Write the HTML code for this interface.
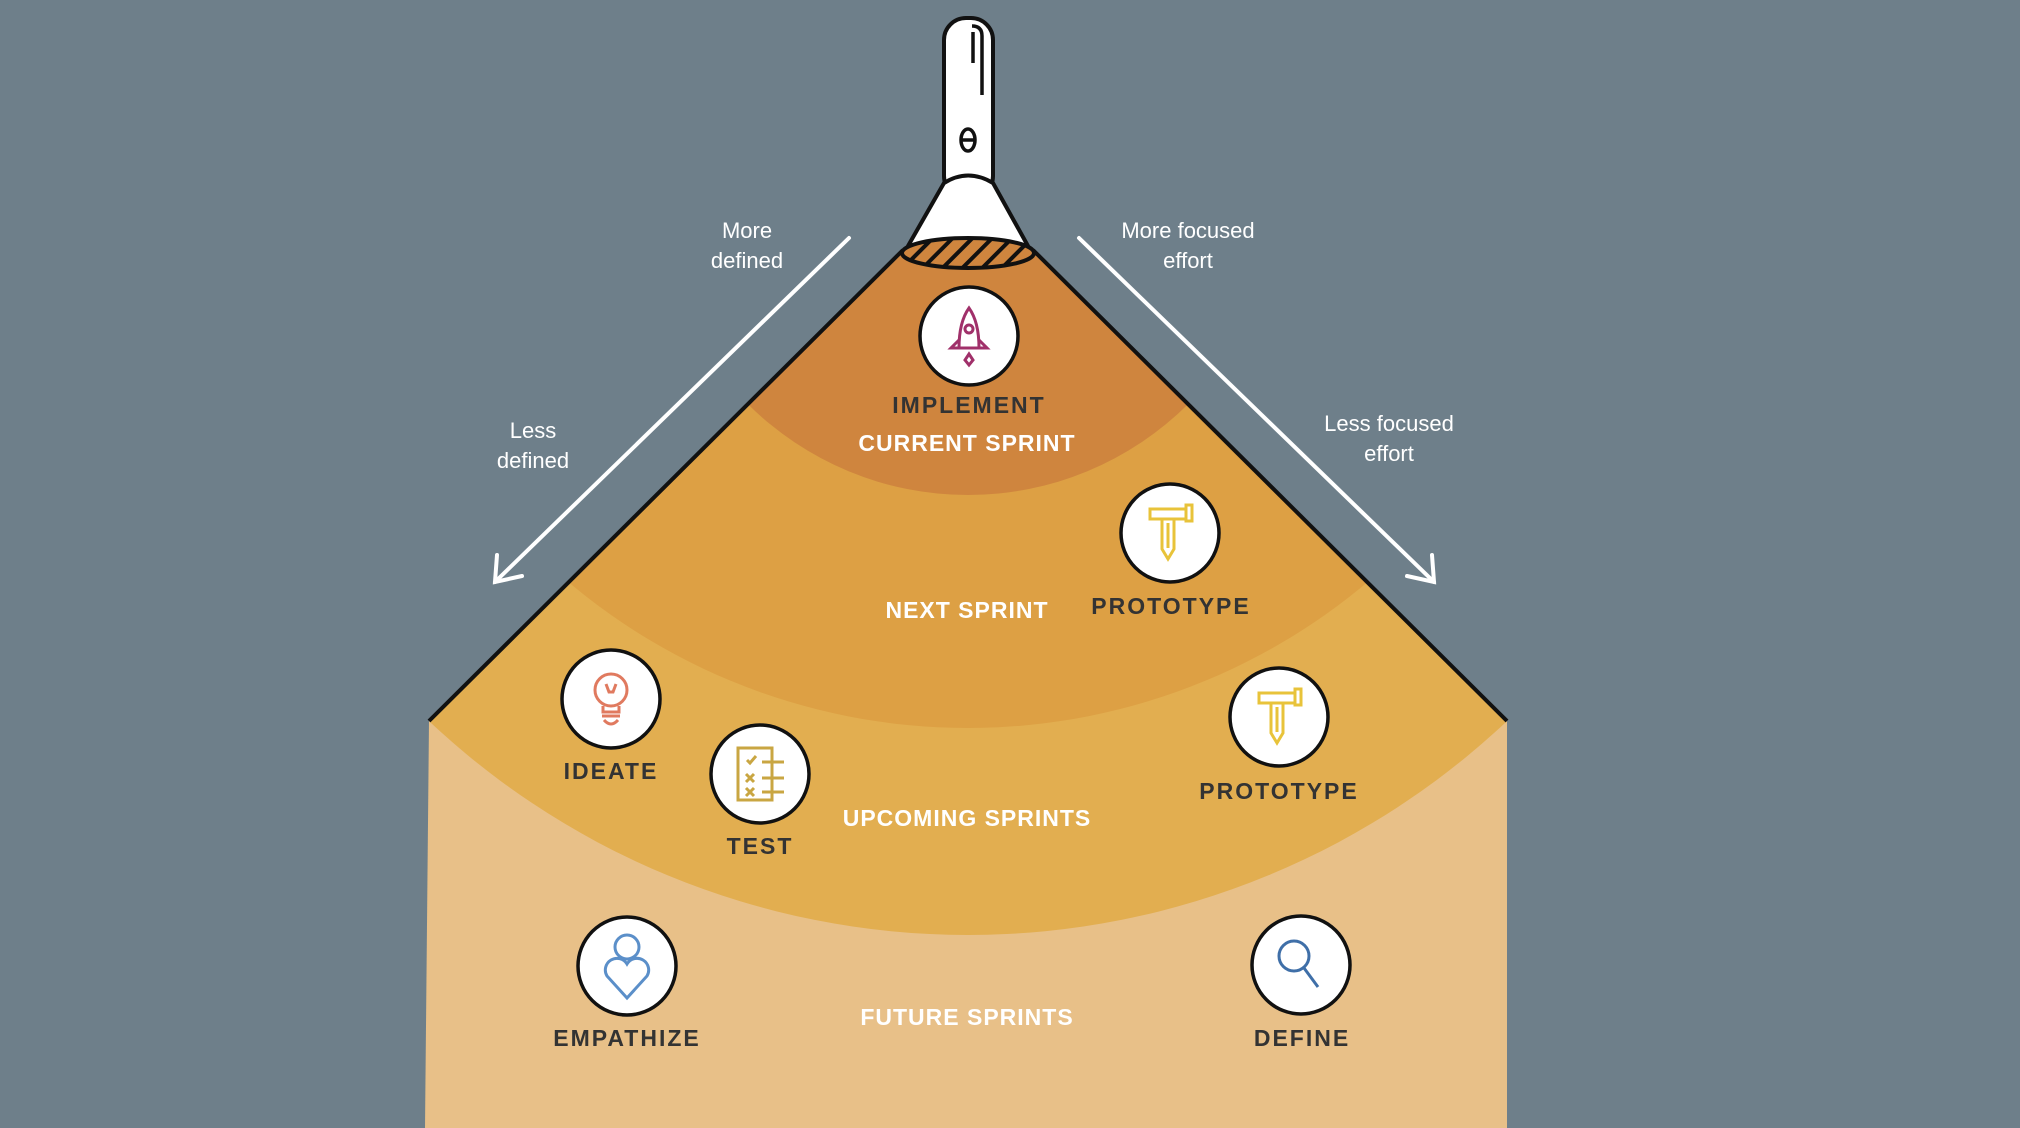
<!DOCTYPE html>
<html><head><meta charset="utf-8"><style>
html,body{margin:0;padding:0;background:#6E7F8A;}
svg{display:block}
.lb{font-family:"Liberation Sans",sans-serif;font-weight:bold;font-size:23px;letter-spacing:2px;fill:#333;text-anchor:middle}
.wh{font-family:"Liberation Sans",sans-serif;font-weight:bold;font-size:23px;letter-spacing:1px;fill:#fff;text-anchor:middle}
.sm{font-family:"Liberation Sans",sans-serif;font-size:22px;fill:#fff;text-anchor:middle}
</style></head><body>
<svg width="2020" height="1128" viewBox="0 0 2020 1128" xmlns="http://www.w3.org/2000/svg">
<defs>
<clipPath id="cone"><polygon points="903,250 1033,250 1507,721 1507,1128 425,1128 429,721"/></clipPath>
<pattern id="hatch" width="14" height="14" patternUnits="userSpaceOnUse" patternTransform="rotate(45)">
<rect width="14" height="14" fill="#CF853E"/><rect width="4" height="14" fill="#111"/></pattern>
</defs>
<rect width="2020" height="1128" fill="#6E7F8A"/>
<g clip-path="url(#cone)">
<rect x="400" y="240" width="1120" height="900" fill="#E8C088"/>
<circle cx="968" cy="149" r="786" fill="#E2AE50"/>
<circle cx="968" cy="108" r="620" fill="#DDA044"/>
<circle cx="968" cy="183" r="312" fill="#CF853E"/>
</g>
<polyline points="903,250 429,721" stroke="#111" stroke-width="4" fill="none"/>
<polyline points="1033,250 1507,721" stroke="#111" stroke-width="4" fill="none"/>
<!-- flashlight -->
<rect x="944" y="18" width="49" height="180" rx="22" fill="#fff" stroke="#111" stroke-width="4"/>
<path d="M972,26 q10,0 10,10 v59" stroke="#111" stroke-width="3.5" fill="none"/>
<line x1="973" y1="32" x2="973" y2="63" stroke="#111" stroke-width="3.5"/>
<ellipse cx="968" cy="140" rx="7" ry="11" fill="none" stroke="#111" stroke-width="3.5"/>
<line x1="961" y1="140" x2="975" y2="140" stroke="#111" stroke-width="3.5"/>
<path d="M944,183 Q968,168 993,183 L1028,246 L908,246 Z" fill="#fff" stroke="#111" stroke-width="4" stroke-linejoin="round"/>
<ellipse cx="968" cy="253" rx="66" ry="15" fill="url(#hatch)" stroke="#111" stroke-width="4"/>
<!-- arrows -->
<g stroke="#fff" stroke-width="4" fill="none" stroke-linecap="round">
<line x1="849" y1="238" x2="495" y2="582"/><polyline points="497,555 495,582 522,576"/>
<line x1="1079" y1="238" x2="1434" y2="582"/><polyline points="1432,555 1434,582 1407,576"/>
</g>
<text class="sm" x="747" y="238">More</text><text class="sm" x="747" y="268">defined</text>
<text class="sm" x="533" y="438">Less</text><text class="sm" x="533" y="468">defined</text>
<text class="sm" x="1188" y="238">More focused</text><text class="sm" x="1188" y="268">effort</text>
<text class="sm" x="1389" y="431">Less focused</text><text class="sm" x="1389" y="461">effort</text>
<!-- icon circles -->
<g fill="#fff" stroke="#111" stroke-width="3.5">
<circle cx="969" cy="336" r="49"/><circle cx="1170" cy="533" r="49"/><circle cx="611" cy="699" r="49"/>
<circle cx="760" cy="774" r="49"/><circle cx="1279" cy="717" r="49"/><circle cx="627" cy="966" r="49"/><circle cx="1301" cy="965" r="49"/>
</g>
<!-- rocket -->
<g stroke="#A0306A" stroke-width="3" fill="none">
<path d="M969,308 q-10,14 -10,40 h20 q0,-26 -10,-40z"/><circle cx="969" cy="329" r="4"/>
<path d="M959,340 l-8,8 h8 M979,340 l8,8 h-8"/><path d="M969,354 l-4,6 l4,5 l4,-5z"/>
</g>
<!-- hammer/pencil -->
<g id="hp" stroke="#E8C33A" stroke-width="3" fill="none">
<rect x="1150" y="509" width="36" height="10"/><rect x="1186" y="505" width="6" height="16"/>
<path d="M1162,519 v30 l6,10 l6,-10 v-30"/><line x1="1168" y1="523" x2="1168" y2="548"/>
</g>
<use href="#hp" x="109" y="184"/>
<!-- bulb -->
<g stroke="#E07A5F" stroke-width="3" fill="none">
<circle cx="611" cy="690" r="16"/><path d="M603,706 v6 h16 v-6"/><line x1="602" y1="716" x2="620" y2="716"/><path d="M604,720 q7,8 14,0"/><path d="M606,684 l3,8 h4 l3,-8"/>
</g>
<!-- test -->
<g stroke="#C9A642" stroke-width="3" fill="none">
<rect x="738" y="748" width="34" height="52"/><path d="M747,760 l3,3 l6,-7 M746,774 l8,8 M754,774 l-8,8 M746,788 l8,8 M754,788 l-8,8"/>
<path d="M762,762 h22 M762,778 h22 M762,792 h22"/>
</g>
<!-- empathize -->
<g stroke="#5B8FC9" stroke-width="3" fill="none">
<circle cx="627" cy="947" r="12"/><path d="M627,998 l-20,-22 a10,10 0 0 1 20,-12 a10,10 0 0 1 20,12 z"/>
</g>
<!-- define -->
<g stroke="#3F6FA8" stroke-width="3" fill="none">
<circle cx="1294" cy="956" r="15"/><line x1="1304" y1="968" x2="1318" y2="987"/>
</g>
<!-- labels -->
<text class="lb" x="969" y="413">IMPLEMENT</text>
<text class="wh" x="967" y="451">CURRENT SPRINT</text>
<text class="lb" x="1171" y="614">PROTOTYPE</text>
<text class="wh" x="967" y="618">NEXT SPRINT</text>
<text class="lb" x="611" y="779">IDEATE</text>
<text class="lb" x="760" y="854">TEST</text>
<text class="wh" x="967" y="826">UPCOMING SPRINTS</text>
<text class="lb" x="1279" y="799">PROTOTYPE</text>
<text class="lb" x="627" y="1046">EMPATHIZE</text>
<text class="wh" x="967" y="1025">FUTURE SPRINTS</text>
<text class="lb" x="1302" y="1046">DEFINE</text>
</svg>
</body></html>
